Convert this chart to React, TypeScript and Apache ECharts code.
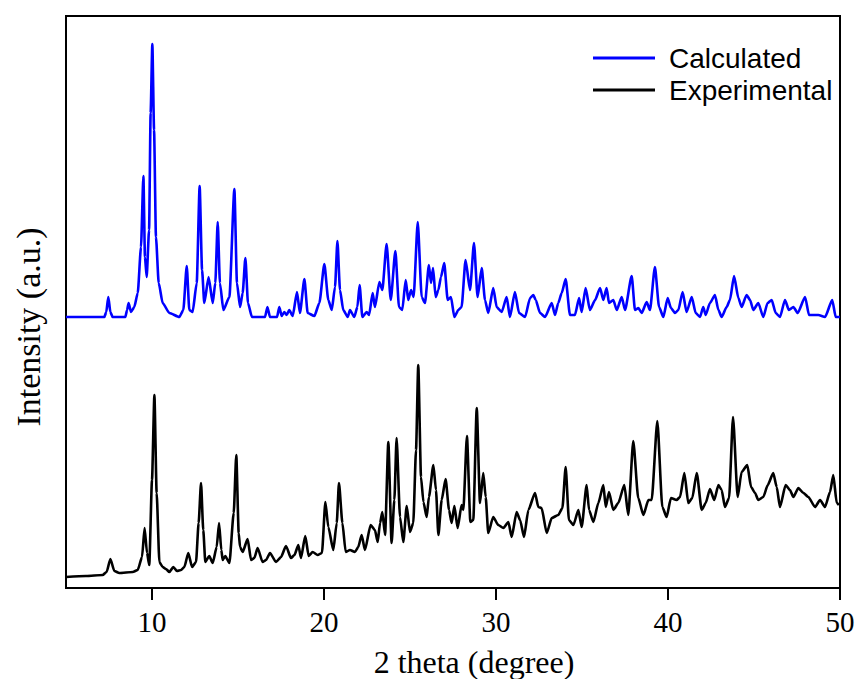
import React, { useEffect, useRef } from "react";
import * as echarts from "echarts";

// 2 theta (degree) vs intensity (arbitrary units, shared scale; calculated pattern offset upward)
const xTicks = [10, 20, 30, 40, 50];

const calculatedPattern: [number, number][] = [
  [5.0, 271], [7.23, 271], [7.34, 276], [7.46, 291], [7.58, 276], [7.71, 271], [8.45, 271], [8.55, 278],
  [8.64, 285], [8.78, 276], [8.97, 281], [9.17, 295], [9.36, 341], [9.5, 412], [9.59, 331], [9.69, 311],
  [9.83, 358], [9.92, 475], [10.02, 544], [10.12, 458], [10.23, 351], [10.39, 305], [10.62, 285], [11.01, 275],
  [11.59, 271], [11.82, 278], [12.02, 322], [12.17, 278], [12.36, 276], [12.6, 305], [12.77, 402], [12.91, 318],
  [13.04, 285], [13.29, 311], [13.53, 285], [13.68, 305], [13.82, 366], [13.95, 305], [14.15, 278], [14.5, 291],
  [14.79, 399], [14.94, 305], [15.12, 281], [15.27, 295], [15.43, 330], [15.58, 285], [15.81, 271], [16.57, 271],
  [16.71, 281], [16.86, 271], [17.27, 271], [17.4, 281], [17.54, 272], [17.69, 276], [17.83, 273], [17.98, 278],
  [18.18, 272], [18.43, 296], [18.6, 275], [18.86, 309], [19.05, 275], [19.44, 272], [19.73, 285], [20.02, 324],
  [20.25, 288], [20.45, 278], [20.64, 301], [20.78, 347], [20.93, 298], [21.12, 278], [21.38, 271], [21.51, 278],
  [21.76, 271], [21.94, 281], [22.07, 303], [22.23, 271], [22.48, 276], [22.62, 273], [22.83, 295], [22.96, 281],
  [23.22, 306], [23.39, 298], [23.64, 344], [23.88, 288], [24.15, 337], [24.36, 281], [24.55, 278], [24.75, 308],
  [24.9, 288], [25.06, 298], [25.21, 291], [25.45, 366], [25.68, 291], [25.87, 285], [26.1, 323], [26.22, 305],
  [26.34, 320], [26.49, 291], [26.65, 298], [26.8, 311], [26.99, 325], [27.19, 288], [27.38, 291], [27.58, 271],
  [27.81, 278], [28.0, 281], [28.23, 328], [28.49, 298], [28.72, 345], [28.93, 291], [29.17, 320], [29.36, 288],
  [29.55, 275], [29.84, 300], [30.04, 281], [30.33, 276], [30.62, 291], [30.81, 271], [31.1, 296], [31.34, 275],
  [31.69, 271], [31.98, 290], [32.17, 293], [32.31, 288], [32.56, 275], [32.85, 271], [33.24, 285], [33.43, 273],
  [33.62, 285], [33.82, 295], [34.05, 309], [34.3, 273], [34.59, 273], [34.83, 290], [34.98, 276], [35.21, 300],
  [35.46, 278], [35.76, 288], [36.05, 300], [36.24, 288], [36.43, 300], [36.57, 285], [36.82, 288], [37.02, 278],
  [37.31, 291], [37.5, 278], [37.89, 312], [38.08, 278], [38.28, 280], [38.47, 275], [38.76, 286], [38.95, 278],
  [39.24, 321], [39.48, 281], [39.73, 271], [39.98, 290], [40.17, 280], [40.41, 275], [40.6, 278], [40.85, 296],
  [41.08, 276], [41.38, 291], [41.61, 275], [41.86, 271], [42.05, 281], [42.19, 273], [42.44, 285], [42.73, 293],
  [42.93, 278], [43.12, 271], [43.41, 281], [43.6, 288], [43.84, 312], [44.09, 290], [44.28, 281], [44.57, 293],
  [44.77, 288], [44.96, 278], [45.25, 285], [45.54, 271], [45.79, 285], [46.03, 288], [46.26, 275], [46.51, 271],
  [46.8, 288], [47.03, 278], [47.29, 281], [47.54, 275], [47.97, 291], [48.2, 273], [48.74, 273], [49.13, 271],
  [49.55, 288], [49.75, 271], [50.0, 271],
];

const experimentalPattern: [number, number][] = [
  [5.0, 11], [6.16, 12], [7.13, 13], [7.36, 16], [7.58, 29], [7.81, 17], [8.1, 15], [8.88, 16],
  [9.17, 18], [9.42, 31], [9.57, 60], [9.71, 35], [9.84, 23], [10.0, 108], [10.14, 193], [10.27, 95],
  [10.43, 26], [10.62, 21], [10.81, 19], [11.01, 16], [11.24, 21], [11.45, 17], [11.69, 18], [11.88, 21],
  [12.11, 35], [12.33, 21], [12.56, 26], [12.71, 65], [12.85, 105], [12.98, 58], [13.1, 26], [13.33, 32],
  [13.53, 25], [13.76, 41], [13.9, 65], [14.03, 38], [14.11, 28], [14.26, 32], [14.5, 25], [14.75, 75],
  [14.9, 133], [15.04, 55], [15.12, 41], [15.27, 36], [15.56, 49], [15.76, 28], [15.95, 30], [16.14, 40],
  [16.43, 26], [16.63, 28], [16.86, 35], [17.21, 26], [17.5, 31], [17.79, 42], [18.08, 30], [18.28, 33],
  [18.51, 43], [18.66, 30], [18.91, 52], [19.11, 32], [19.34, 36], [19.63, 33], [19.88, 35], [20.08, 86],
  [20.25, 61], [20.54, 38], [20.74, 65], [20.87, 105], [21.07, 65], [21.26, 36], [21.51, 38], [21.8, 36],
  [21.99, 41], [22.19, 53], [22.38, 38], [22.71, 63], [22.96, 58], [23.12, 46], [23.26, 65], [23.39, 76],
  [23.55, 53], [23.74, 146], [23.93, 45], [24.09, 88], [24.22, 150], [24.42, 71], [24.61, 46], [24.81, 82],
  [25.0, 56], [25.19, 65], [25.35, 138], [25.48, 223], [25.64, 111], [25.78, 86], [25.97, 71], [26.1, 91],
  [26.36, 123], [26.51, 98], [26.65, 53], [26.84, 88], [27.07, 109], [27.27, 78], [27.42, 65], [27.58, 82],
  [27.77, 60], [28.0, 83], [28.1, 78], [28.31, 152], [28.51, 66], [28.68, 68], [28.88, 180], [29.07, 85],
  [29.26, 115], [29.4, 91], [29.55, 55], [29.84, 71], [30.13, 63], [30.43, 60], [30.72, 66], [30.91, 51],
  [31.2, 76], [31.4, 68], [31.63, 51], [31.88, 78], [32.27, 95], [32.46, 81], [32.65, 80], [32.95, 55],
  [33.24, 70], [33.62, 73], [33.86, 80], [34.05, 121], [34.24, 68], [34.5, 63], [34.79, 78], [34.98, 61],
  [35.27, 103], [35.41, 78], [35.66, 66], [35.95, 85], [36.24, 103], [36.38, 81], [36.57, 96], [36.82, 78],
  [37.11, 85], [37.46, 103], [37.69, 73], [37.98, 147], [38.27, 90], [38.57, 73], [38.86, 88], [39.05, 88],
  [39.38, 167], [39.67, 81], [39.92, 71], [40.17, 90], [40.5, 88], [40.7, 91], [40.95, 115], [41.18, 85],
  [41.41, 90], [41.67, 115], [41.96, 78], [42.19, 85], [42.44, 99], [42.69, 88], [42.93, 103], [43.12, 98],
  [43.31, 81], [43.55, 90], [43.78, 171], [44.05, 91], [44.28, 116], [44.61, 123], [44.83, 101], [45.06, 95],
  [45.25, 88], [45.54, 91], [45.8, 103], [46.12, 115], [46.32, 101], [46.51, 81], [46.84, 103], [47.09, 98],
  [47.29, 91], [47.58, 100], [47.87, 95], [48.16, 91], [48.55, 81], [48.84, 88], [49.13, 81], [49.42, 96],
  [49.61, 113], [49.81, 85], [49.94, 83],
];

const seriesNames = ["Calculated", "Experimental"];
const seriesColors = ["#0000ff", "#000000"];
const xTitle = "2 theta (degree)";
const yTitle = "Intensity (a.u.)";

export default function App() {
  const ref = useRef<HTMLDivElement>(null);

  useEffect(() => {
    document.body.style.margin = "0";
    if (!ref.current) return;
    const chart = echarts.init(ref.current, undefined, { renderer: "svg" });
    const serif = "'Liberation Serif', 'Times New Roman', serif";
    chart.setOption({
      animation: false,
      backgroundColor: "#ffffff",
      grid: {
        left: 66,
        right: 19,
        top: 16,
        bottom: 91,
        show: true,
        borderColor: "#000",
        borderWidth: 2,
        backgroundColor: "transparent",
      },
      legend: {
        orient: "vertical",
        left: 588,
        top: 39,
        icon: "rect",
        itemWidth: 62,
        itemHeight: 3,
        itemGap: 4,
        data: seriesNames,
        textStyle: {
          fontFamily: "'Liberation Sans', Arial, sans-serif",
          fontSize: 28,
          lineHeight: 28,
          color: "#000",
          padding: [0, 0, 0, 9],
        },
      },
      graphic: [
        {
          type: "text",
          x: 474,
          y: 662,
          style: {
            text: xTitle,
            fill: "#000",
            font: "32px 'Liberation Serif', 'Times New Roman', serif",
            textAlign: "center",
            textVerticalAlign: "middle",
          },
        },
        {
          type: "text",
          x: 28,
          y: 327,
          rotation: Math.PI / 2,
          style: {
            text: yTitle,
            fill: "#000",
            font: "34px 'Liberation Serif', 'Times New Roman', serif",
            textAlign: "center",
            textVerticalAlign: "middle",
          },
        },
      ],
      xAxis: {
        type: "value",
        min: 5,
        max: 50,
        axisLine: { show: true, lineStyle: { color: "#000", width: 2 } },
        axisTick: {
          show: true,
          inside: false,
          length: 12,
          lineStyle: { color: "#000", width: 2 },
          customValues: xTicks,
        },
        axisLabel: {
          show: true,
          margin: 19,
          fontFamily: serif,
          fontSize: 29,
          color: "#000",
          customValues: xTicks,
        },
        splitLine: { show: false },
      },
      yAxis: {
        type: "value",
        min: 0,
        max: 572,
        axisLine: { show: false },
        axisTick: { show: false },
        axisLabel: { show: false },
        splitLine: { show: false },
      },
      series: [
        {
          name: seriesNames[0],
          type: "line",
          data: calculatedPattern,
          symbol: "none",
          showSymbol: false,
          smooth: 0.2,
          smoothMonotone: "x",
          lineStyle: { color: seriesColors[0], width: 2.6 },
          itemStyle: { color: seriesColors[0] },
        },
        {
          name: seriesNames[1],
          type: "line",
          data: experimentalPattern,
          symbol: "none",
          showSymbol: false,
          smooth: 0.2,
          smoothMonotone: "x",
          lineStyle: { color: seriesColors[1], width: 2.6 },
          itemStyle: { color: seriesColors[1] },
        },
      ],
    });
    return () => chart.dispose();
  }, []);

  return <div ref={ref} style={{ width: 859, height: 679 }} />;
}
